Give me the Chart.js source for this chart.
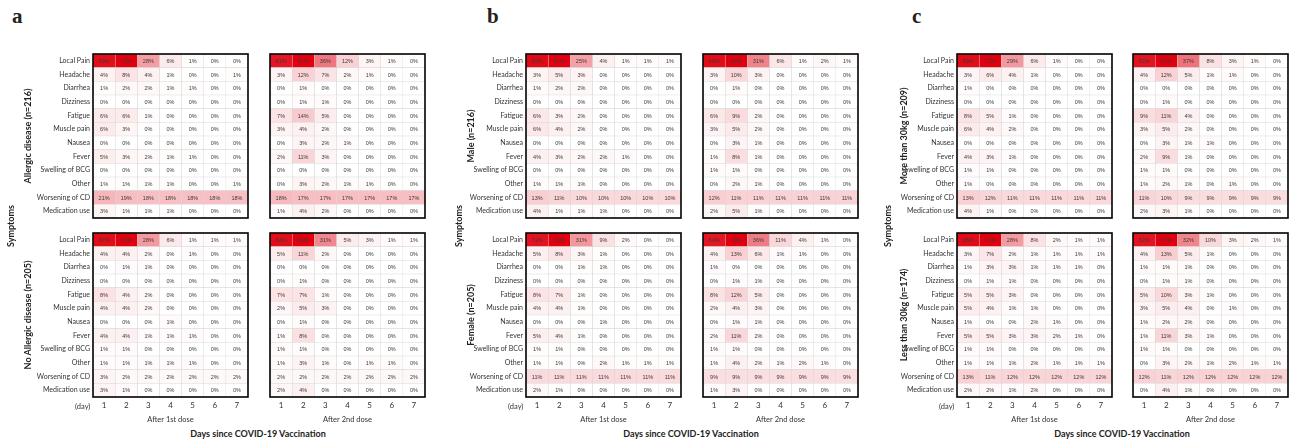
<!DOCTYPE html>
<html><head><meta charset="utf-8">
<script src="https://cdn.jsdelivr.net/npm/chart.js@4/dist/chart.umd.min.js"></script>
<style>
body{margin:0;background:#fff;width:1291px;height:440px;position:relative;overflow:hidden;font-family:Lato,"Liberation Sans",sans-serif;color:#222}
.box{position:absolute}
.t{position:absolute;white-space:nowrap}
.rot{transform:translate(-50%,-50%) rotate(-90deg);font-weight:bold;font-size:9px}
.letter{font-family:"Liberation Serif",serif;font-weight:bold;font-size:21px}
.xt{transform:translate(-50%,-50%);font-weight:bold;font-size:9px}
.day{transform:translate(0,-50%);font-size:7.5px;color:#333}
</style></head><body>
<script>
const days = ['1','2','3','4','5','6','7'];
const symptoms = ['Local Pain','Headache','Diarrhea','Dizziness','Fatigue','Muscle pain','Nausea','Fever','Swelling of BCG','Other','Worsening of CD','Medication use'];

const allergicFirst = [[69,73,28,6,1,0,0],[4,8,4,1,0,0,1],[1,2,2,1,1,0,0],[0,0,0,0,0,0,0],[6,6,1,0,0,0,0],[6,3,0,0,0,0,0],[0,0,0,0,0,0,0],[5,3,2,1,1,0,0],[0,0,0,0,0,0,0],[1,1,1,1,0,0,1],[21,19,18,18,18,18,18],[3,1,1,1,0,0,0]];
const allergicSecond = [[61,67,36,12,3,1,0],[3,12,7,2,1,0,0],[0,1,0,0,0,0,0],[0,1,1,0,0,0,0],[7,14,5,0,0,0,0],[3,4,2,0,0,0,0],[0,3,2,1,0,0,0],[2,11,3,0,0,0,0],[0,0,0,0,0,0,0],[0,3,2,1,1,0,0],[18,17,17,17,17,17,17],[1,4,2,0,0,0,0]];
const noAllergicFirst = [[67,70,28,6,1,1,1],[4,4,2,0,1,0,0],[0,1,1,0,0,0,0],[0,0,0,0,0,0,0],[8,4,2,0,0,0,0],[4,4,2,0,0,0,0],[0,0,0,1,0,0,0],[4,4,1,1,1,0,0],[1,1,0,0,0,0,0],[1,1,1,1,1,0,0],[3,2,2,2,2,2,2],[3,1,0,0,0,0,0]];
const noAllergicSecond = [[63,66,31,5,3,1,1],[5,11,2,0,0,0,0],[0,0,0,0,0,0,0],[0,1,0,0,0,0,0],[7,7,1,0,0,0,0],[2,5,3,0,0,0,0],[0,1,0,0,0,0,0],[1,8,0,0,0,0,0],[1,1,0,0,0,0,0],[1,3,1,0,1,1,0],[2,2,2,2,2,2,2],[2,4,0,0,0,0,0]];
const maleFirst = [[65,67,25,4,1,1,1],[3,5,3,0,0,0,0],[1,2,2,0,0,0,0],[0,0,0,0,0,0,0],[6,3,2,0,0,0,0],[6,4,2,0,0,0,0],[0,0,0,0,0,0,0],[4,3,2,2,1,0,0],[0,0,0,0,0,0,0],[1,1,1,0,0,0,0],[13,11,10,10,10,10,10],[4,1,1,1,0,0,0]];
const maleSecond = [[60,63,31,6,1,2,1],[3,10,3,0,0,0,0],[0,1,0,0,0,0,0],[0,0,0,0,0,0,0],[6,9,2,0,0,0,0],[3,5,2,0,0,0,0],[0,3,1,0,0,0,0],[1,8,1,0,0,0,0],[1,1,0,0,0,0,0],[0,2,1,0,0,0,0],[12,11,11,11,11,11,11],[2,5,1,0,0,0,0]];
const femaleFirst = [[71,76,31,9,2,0,0],[5,8,3,1,0,0,0],[0,0,1,1,0,0,0],[0,0,0,0,0,0,0],[8,7,1,0,0,0,0],[4,4,1,0,0,0,0],[0,0,0,1,0,0,0],[5,4,1,0,0,0,0],[1,1,0,0,0,0,0],[1,1,0,2,1,1,1],[11,11,11,11,11,11,11],[2,1,0,0,0,0,0]];
const femaleSecond = [[64,70,36,11,4,1,0],[4,13,6,1,1,0,0],[1,0,0,0,0,0,0],[0,1,1,0,0,0,0],[8,12,5,0,0,0,0],[2,4,3,0,0,0,0],[0,1,1,0,0,0,0],[2,11,2,0,0,0,0],[1,1,0,0,0,0,0],[1,4,2,1,2,1,0],[9,9,9,9,9,9,9],[1,3,0,0,0,0,0]];
const heavyFirst = [[69,72,29,6,1,0,0],[3,6,4,1,0,0,0],[1,0,0,0,0,0,0],[0,0,0,0,0,0,0],[8,5,1,0,0,0,0],[6,4,2,0,0,0,0],[0,0,0,0,0,0,0],[4,3,1,0,0,0,0],[1,1,0,0,0,0,0],[1,0,0,0,0,0,0],[13,12,11,11,11,11,11],[4,1,0,0,0,0,0]];
const heavySecond = [[62,67,37,8,3,1,0],[4,12,5,1,1,0,0],[0,0,0,0,0,0,0],[0,1,0,0,0,0,0],[9,11,4,0,0,0,0],[3,5,2,0,0,0,0],[0,3,1,1,0,0,0],[2,9,1,0,0,0,0],[1,1,0,0,0,0,0],[1,2,1,0,1,0,0],[11,10,9,9,9,9,9],[2,3,1,0,0,0,0]];
const lightFirst = [[68,71,28,8,2,1,1],[3,7,2,1,1,1,1],[1,3,3,1,1,1,0],[0,1,1,0,0,0,0],[5,5,3,0,0,0,0],[5,4,1,1,0,0,0],[1,0,0,2,1,0,0],[5,5,3,3,2,1,0],[1,1,0,0,0,0,0],[1,1,1,2,1,1,1],[13,11,12,12,12,12,12],[2,2,1,2,0,0,0]];
const lightSecond = [[62,67,32,10,3,2,1],[4,13,5,1,0,0,0],[1,1,1,0,0,0,0],[0,1,1,0,0,0,0],[5,10,3,1,0,0,0],[3,5,4,0,1,0,0],[1,2,2,0,0,0,0],[1,11,3,1,0,0,0],[1,1,0,0,0,0,0],[0,3,2,1,2,1,1],[12,11,12,12,12,12,12],[0,4,1,0,0,0,0]];

const GW = 155, GH = 164, YW = 80, XH = 27;
const TOP1 = 54, TOP2 = 233;
const grids = [
  {d: allergicFirst, x: 93, y: TOP1, lab: true, bot: false},
  {d: allergicSecond, x: 270, y: TOP1, lab: false, bot: false},
  {d: noAllergicFirst, x: 93, y: TOP2, lab: true, bot: true, title: 'After 1st dose'},
  {d: noAllergicSecond, x: 270, y: TOP2, lab: false, bot: true, title: 'After 2nd dose'},
  {d: maleFirst, x: 526, y: TOP1, lab: true, bot: false},
  {d: maleSecond, x: 703, y: TOP1, lab: false, bot: false},
  {d: femaleFirst, x: 526, y: TOP2, lab: true, bot: true, title: 'After 1st dose'},
  {d: femaleSecond, x: 703, y: TOP2, lab: false, bot: true, title: 'After 2nd dose'},
  {d: heavyFirst, x: 957, y: TOP1, lab: true, bot: false},
  {d: heavySecond, x: 1133, y: TOP1, lab: false, bot: false},
  {d: lightFirst, x: 957, y: TOP2, lab: true, bot: true, title: 'After 1st dose'},
  {d: lightSecond, x: 1133, y: TOP2, lab: false, bot: true, title: 'After 2nd dose'}
];

Chart.defaults.font.family = 'Lato';
Chart.defaults.color = '#333';

function heat(v, max) {
  const t = Math.max(0, Math.min(1, v / max));
  const r = Math.round(255 - t * (255 - 226));
  const g = Math.round(255 - t * 255);
  const b = Math.round(255 - t * (255 - 14));
  return `rgb(${r},${g},${b})`;
}

const cellText = {
  id: 'cellText',
  afterDatasetsDraw(chart) {
    const ctx = chart.ctx;
    ctx.save();
    ctx.font = '5.5px "Liberation Sans", Arial, sans-serif';
    ctx.fillStyle = '#3a3a3a';
    ctx.textAlign = 'center';
    ctx.textBaseline = 'middle';
    chart.data.datasets.forEach((ds, di) => {
      const meta = chart.getDatasetMeta(di);
      meta.data.forEach((el, i) => {
        ctx.fillText(ds.vals[i] + '%', (el.x + el.base) / 2, el.y + 0.5);
      });
    });
    const a = chart.chartArea;
    ctx.strokeStyle = '#000';
    ctx.lineWidth = 1.6;
    ctx.strokeRect(a.left, a.top, a.right - a.left, a.bottom - a.top);
    ctx.restore();
  }
};

function makeChart(g) {
  const leftExtra = g.lab ? YW : 2;
  const div = document.createElement('div');
  div.className = 'box';
  div.style.left = (g.x - leftExtra) + 'px';
  div.style.top = (g.y - 2) + 'px';
  div.style.width = (GW + leftExtra + 2) + 'px';
  div.style.height = (GH + 2 + (g.bot ? XH : 2)) + 'px';
  const cv = document.createElement('canvas');
  div.appendChild(cv);
  document.body.appendChild(div);
  let max = 0;
  g.d.forEach(r => r.forEach(v => { if (v > max) max = v; }));
  const datasets = days.map((day, j) => ({
    label: day,
    data: symptoms.map(() => [j - 0.5, j + 0.5]),
    vals: g.d.map(r => r[j]),
    backgroundColor: g.d.map(r => heat(r[j], max)),
    borderColor: '#d6d6d6',
    borderWidth: 0.5,
    borderSkipped: false,
    grouped: false,
    barPercentage: 1,
    categoryPercentage: 1
  }));
  new Chart(cv, {
    type: 'bar',
    data: {labels: symptoms, datasets},
    options: {
      indexAxis: 'y',
      responsive: true,
      maintainAspectRatio: false,
      animation: false,
      layout: {autoPadding: false, padding: {left: g.lab ? 0 : 2, top: 2, right: 2, bottom: g.bot ? 0 : 2}},
      plugins: {legend: {display: false}, tooltip: {enabled: false}},
      scales: {
        y: {
          display: g.lab,
          grid: {display: false, drawTicks: false},
          border: {display: false},
          ticks: {font: {size: 7}, color: '#333', padding: 3, autoSkip: false},
          afterFit(s) {
            if (g.lab) s.width = YW;
            s.paddingTop = 0; s.paddingBottom = 0; s.paddingLeft = 0; s.paddingRight = 0;
          }
        },
        x: {
          type: 'linear',
          min: -0.5, max: 6.5,
          display: g.bot,
          grid: {display: false, drawTicks: false},
          border: {display: false},
          afterBuildTicks(s) { s.ticks = days.map((d, i) => ({value: i})); },
          ticks: {font: {size: 8}, color: '#333', padding: 4, callback: (v) => days[v], maxRotation: 0, autoSkip: false},
          title: {display: !!g.title, text: g.title || '', font: {size: 7.5}, color: '#333', padding: {top: 0, bottom: 0}},
          afterFit(s) {
            if (g.bot) s.height = XH;
            s.paddingTop = 0; s.paddingBottom = 0; s.paddingLeft = 0; s.paddingRight = 0;
          }
        }
      }
    },
    plugins: [cellText]
  });
}
grids.forEach(makeChart);

const texts = [
  {c: 'letter', x: 12, y: 4, s: 'a'},
  {c: 'letter', x: 487, y: 4, s: 'b'},
  {c: 'letter', x: 912, y: 4, s: 'c'},
  {c: 'rot', x: 10, y: 226, s: 'Symptoms'},
  {c: 'rot', x: 27, y: 136, s: 'Allergic disease (n=216)'},
  {c: 'rot', x: 27, y: 315, s: 'No Allergic disease (n=205)'},
  {c: 'rot', x: 458, y: 226, s: 'Symptoms'},
  {c: 'rot', x: 470, y: 136, s: 'Male (n=216)'},
  {c: 'rot', x: 470, y: 315, s: 'Female (n=205)'},
  {c: 'rot', x: 887, y: 226, s: 'Symptoms'},
  {c: 'rot', x: 903, y: 136, s: 'More than 30kg (n=209)'},
  {c: 'rot', x: 903, y: 315, s: 'Less than 30kg (n=174)'},
  {c: 'day', x: 75, y: 406, s: '(day)'},
  {c: 'day', x: 508, y: 406, s: '(day)'},
  {c: 'day', x: 939, y: 406, s: '(day)'},
  {c: 'xt', x: 258, y: 433, s: 'Days since COVID-19 Vaccination'},
  {c: 'xt', x: 691, y: 433, s: 'Days since COVID-19 Vaccination'},
  {c: 'xt', x: 1122, y: 433, s: 'Days since COVID-19 Vaccination'}
];
texts.forEach(t => {
  const e = document.createElement('div');
  e.className = 't ' + t.c;
  e.style.left = t.x + 'px';
  e.style.top = t.y + 'px';
  e.textContent = t.s;
  document.body.appendChild(e);
});
</script>
</body></html>
